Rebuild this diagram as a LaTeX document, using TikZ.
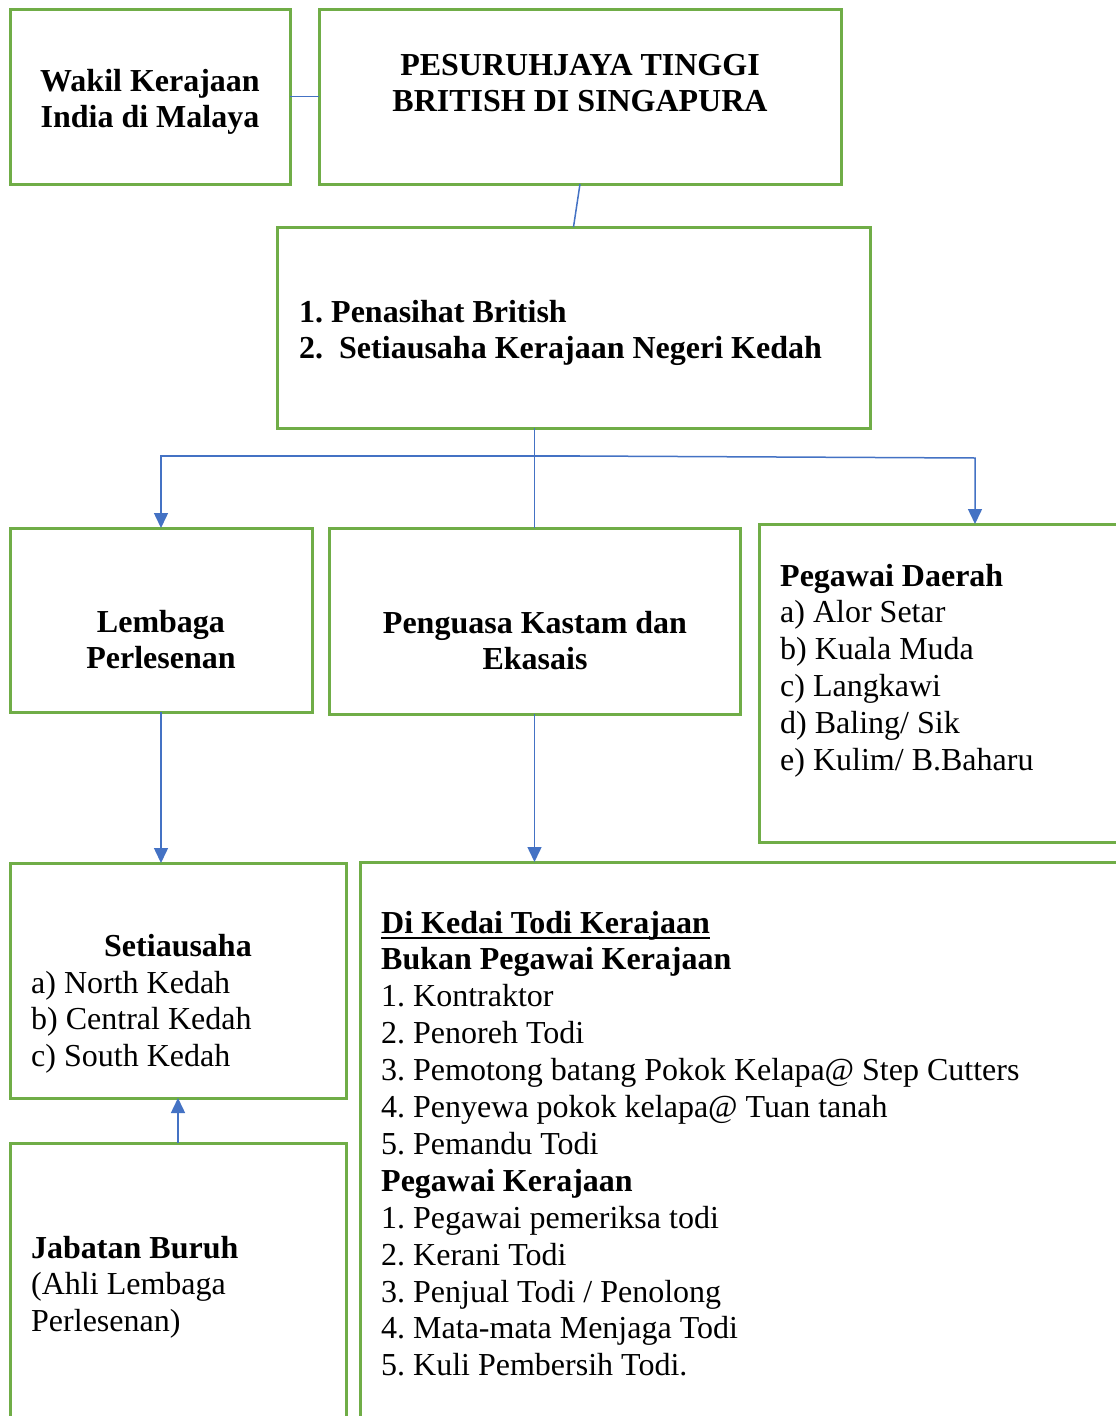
\documentclass[tikz,border=0pt]{standalone}
\usepackage{fontspec}
\setmainfont{Liberation Serif}
\usetikzlibrary{arrows.meta}
\definecolor{grn}{HTML}{70AD47}
\definecolor{blu}{HTML}{4472C4}
\newcommand\thickul[1]{\leavevmode\setbox0\hbox{#1}\rlap{\rule[-6pt]{\wd0}{2.5pt}}\box0}
\frenchspacing
\begin{document}
\frenchspacing
\begin{tikzpicture}[x=1pt,y=-1pt,
  box/.style={draw=grn, line width=3pt, rectangle, inner sep=0pt, outer sep=0pt, anchor=north west},
  txt/.style={inner sep=0pt, yshift=-2pt, font=\fontsize{32}{36.9}\selectfont\frenchspacing},
  conn/.style={draw=blu, line width=1.5pt},
  arr/.style={conn, -{Triangle[width=14pt,length=15pt]}}]
\useasboundingbox (0,0) rectangle (1116,1416);
\clip (0,0) rectangle (1116,1416);
\fill[white] (0,0) rectangle (1116,1416);

% boxes
\node[box, minimum width=280pt, minimum height=175pt] (wakil) at (10,9) {};
\node[box, minimum width=522pt, minimum height=175pt] (pes) at (319,9) {};
\node[box, minimum width=593pt, minimum height=201pt] (pen) at (277,227) {};
\node[box, minimum width=302pt, minimum height=184pt] (lemb) at (10,528) {};
\node[box, minimum width=411pt, minimum height=186pt] (pengu) at (329,528) {};
\node[box, minimum width=432pt, minimum height=318pt] (peg) at (759,524) {};
\node[box, minimum width=336pt, minimum height=235pt] (seti) at (10,863) {};
\node[box, minimum width=336pt, minimum height=357pt] (jab) at (10,1143) {};
\node[box, minimum width=800pt, minimum height=600pt] (kedai) at (360,862) {};

% texts
\node[txt, anchor=base] (wakilT) at (150,89) {\parbox[t]{270pt}{\centering\bfseries Wakil Kerajaan\\India di Malaya}};
\node[txt, anchor=base] (pesT) at (580,73) {\parbox[t]{500pt}{\centering\bfseries PESURUHJAYA TINGGI\\BRITISH DI SINGAPURA}};
\node[txt, anchor=base west] (penT) at (299,320) {\parbox[t]{560pt}{\raggedright\bfseries 1. Penasihat British\\2.\ \ Setiausaha Kerajaan Negeri Kedah}};
\node[txt, anchor=base] (lembT) at (161,630) {\parbox[t]{290pt}{\centering\bfseries Lembaga\\Perlesenan}};
\node[txt, anchor=base] (penguT) at (535,631) {\parbox[t]{400pt}{\centering\bfseries Penguasa Kastam dan\\Ekasais}};
\node[txt, anchor=base west] (pegT) at (780,584) {\parbox[t]{330pt}{\raggedright\leavevmode{\bfseries Pegawai Daerah}\\a) Alor Setar\\b) Kuala Muda\\c) Langkawi\\d) Baling/ Sik\\e) Kulim/ B.Baharu}};
\node[txt, anchor=base] (setiT) at (178,954) {\bfseries Setiausaha};
\node[txt, anchor=base west] (setiL) at (31,991) {\parbox[t]{300pt}{\raggedright a) North Kedah\\b) Central Kedah\\c) South Kedah}};
\node[txt, anchor=base west] (jabT) at (31,1256) {\parbox[t]{300pt}{\raggedright\leavevmode{\bfseries Jabatan Buruh}\\(Ahli Lembaga\\Perlesenan)}};
\node[txt, anchor=base west] (kedaiT) at (381,931) {\parbox[t]{720pt}{\raggedright\leavevmode
  {\bfseries\thickul{Di Kedai Todi Kerajaan}}\\
  {\bfseries Bukan Pegawai Kerajaan}\\
  1. Kontraktor\\
  2. Penoreh Todi\\
  3. Pemotong batang Pokok Kelapa@ Step Cutters\\
  4. Penyewa pokok kelapa@ Tuan tanah\\
  5. Pemandu Todi\\
  {\bfseries Pegawai Kerajaan}\\
  1. Pegawai pemeriksa todi\\
  2. Kerani Todi\\
  3. Penjual Todi / Penolong\\
  4. Mata-mata Menjaga Todi\\
  5. Kuli Pembersih Todi.}};

% connectors
\coordinate (bus) at (580,456);
\coordinate (busR) at (975,458);
\draw[conn] (wakil.east) -- (pes.west);
\draw[conn] (pes.south) -- (pen.north);
\draw[conn] (pen.south -| pengu.north) -- (pengu.north);
\draw[arr] (bus) -| (lemb.north);
\draw[arr] (bus) -- (busR) -- (peg.north);
\draw[arr] (lemb.south) -- (lemb.south |- seti.north);
\draw[arr] (pengu.south) -- (pengu.south |- kedai.north);
\draw[arr] (jab.north) -- (seti.south);
\end{tikzpicture}
\end{document}
